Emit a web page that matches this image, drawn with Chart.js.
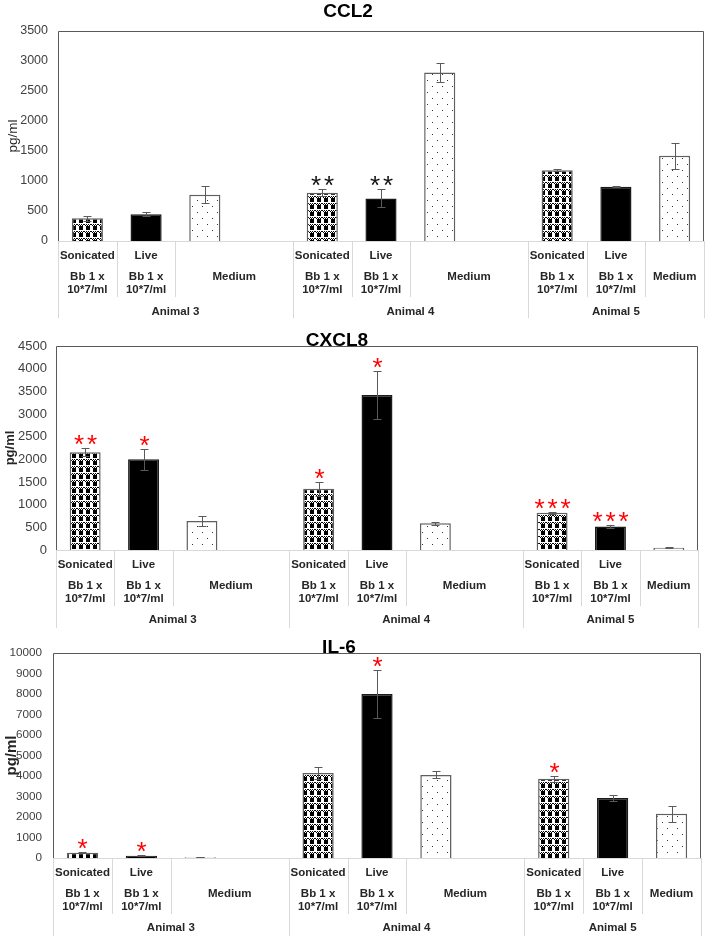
<!DOCTYPE html>
<html>
<head>
<meta charset="utf-8">
<script src="https://cdn.jsdelivr.net/npm/chart.js@4"></script>
<style>
  html, body { margin: 0; padding: 0; background: #fff; }
  body { width: 708px; height: 938px; position: relative; overflow: hidden; }
  canvas { position: absolute; left: 0; }
</style>
</head>
<body>
<canvas id="ccl2" width="708" height="326" style="top:0px"></canvas>
<canvas id="cxcl8" width="708" height="302" style="top:326px"></canvas>
<canvas id="il6" width="708" height="310" style="top:628px"></canvas>
<script>
// 11 category slots: Animal 3 and 4 have an empty 4th slot that "Medium" spans into
const treatments = ['Sonicated', 'Live', 'Medium', '', 'Sonicated', 'Live', 'Medium', '', 'Sonicated', 'Live', 'Medium'];
const doseLines = ['Bb 1 x', '10*7/ml'];
const animals = ['Animal 3', 'Animal 4', 'Animal 5'];
const animalSizes = [4, 4, 3];

const ccl2Values = [380, 445, 770, null, 805, 710, 2810, null, 1180, 905, 1420];
const ccl2Errors = [45, 35, 140, null, 55, 150, 155, null, 15, 8, 220];
const ccl2Stars  = ['', '', '', '', '**', '**', '', '', '', '', ''];
const ccl2Ticks  = [0, 500, 1000, 1500, 2000, 2500, 3000, 3500];

const cxcl8Values = [2155, 2000, 640, null, 1350, 3420, 590, null, 820, 520, 50];
const cxcl8Errors = [90, 225, 100, null, 150, 530, 30, null, 15, 25, 15];
const cxcl8Stars  = ['**', '*', '', '', '*', '*', '', '', '***', '***', ''];
const cxcl8Ticks  = [0, 500, 1000, 1500, 2000, 2500, 3000, 3500, 4000, 4500];

const il6Values = [260, 110, 40, null, 4150, 8000, 4050, null, 3860, 2930, 2160];
const il6Errors = [40, 20, 10, null, 300, 1180, 170, null, 130, 130, 400];
const il6Stars  = ['*', '*', '', '', '', '*', '', '', '*', '', ''];
const il6Ticks  = [0, 1000, 2000, 3000, 4000, 5000, 6000, 7000, 8000, 9000, 10000];

const FONT = '"Liberation Sans", Arial, Helvetica, sans-serif';

function tile(w, h, draw) {
  const c = document.createElement('canvas');
  c.width = w; c.height = h;
  const g = c.getContext('2d');
  g.fillStyle = '#fff';
  g.fillRect(0, 0, w, h);
  draw(g);
  return c;
}

function fillsFor(ctx) {
  // checkered fill for sonicated bars
  const check = tile(7, 7, g => {
    g.fillStyle = '#000';
    for (let yy = 0; yy < 2; yy++)
      for (let xx = 0; xx < 7; xx++)
        if ((xx + yy) % 2 === 0) g.fillRect(xx, yy, 1, 1);
    g.fillRect(2, 2, 4, 4);
  });
  // small dots for medium bars
  const dots = tile(10, 12, g => {
    g.fillStyle = '#333';
    g.fillRect(2, 2, 1, 1);
    g.fillRect(7, 8, 1, 1);
  });
  return {
    Sonicated: ctx.createPattern(check, 'repeat'),
    Live: '#000',
    Medium: ctx.createPattern(dots, 'repeat'),
    '': '#fff'
  };
}

const panelPlugin = {
  id: 'panel',
  afterDatasetsDraw(chart) {
    const p = chart.options.plugins.panel;
    const ctx = chart.ctx, x = chart.scales.x, y = chart.scales.y;
    ctx.save();
    ctx.strokeStyle = '#5a5a5a';
    ctx.lineWidth = 1;
    p.values.forEach((v, i) => {
      if (v == null) return;
      const cx = Math.round(x.getPixelForValue(i)) + 0.5;
      const hi = Math.round(y.getPixelForValue(v + p.errors[i])) + 0.5;
      const lo = Math.round(y.getPixelForValue(Math.max(0, v - p.errors[i]))) + 0.5;
      ctx.beginPath();
      ctx.moveTo(cx, hi); ctx.lineTo(cx, lo);
      ctx.moveTo(cx - 4, hi); ctx.lineTo(cx + 4, hi);
      ctx.moveTo(cx - 4, lo); ctx.lineTo(cx + 4, lo);
      ctx.stroke();
      const s = p.stars[i];
      if (s) {
        ctx.fillStyle = p.starColor;
        ctx.font = '26px ' + FONT;
        ctx.textAlign = 'center';
        ctx.textBaseline = 'alphabetic';
        const gap = 13;
        for (let k = 0; k < s.length; k++) {
          const sx = cx - (s.length - 1) * gap / 2 + k * gap;
          ctx.fillText('*', sx, hi + 4);
        }
      }
    });
    ctx.restore();
  },
  afterDraw(chart) {
    const p = chart.options.plugins.panel;
    const ctx = chart.ctx, a = chart.chartArea;
    const n = treatments.length;
    const slot = (a.right - a.left) / n;
    ctx.save();

    // category axis grid (light)
    ctx.strokeStyle = '#d9d9d9';
    ctx.lineWidth = 1;
    ctx.beginPath();
    ctx.moveTo(a.left, a.bottom + 0.5); ctx.lineTo(a.right, a.bottom + 0.5);
    const groupEdges = [0];
    animalSizes.forEach(sz => groupEdges.push(groupEdges[groupEdges.length - 1] + sz));
    for (let i = 0; i <= n; i++) {
      const bx = Math.round(a.left + i * slot) + 0.5;
      if (groupEdges.includes(i)) {
        ctx.moveTo(bx, a.bottom); ctx.lineTo(bx, a.bottom + p.groupLine);
      } else if (treatments[i] !== '') {
        ctx.moveTo(bx, a.bottom); ctx.lineTo(bx, a.bottom + 56);
      }
    }
    ctx.stroke();

    // plot frame
    ctx.strokeStyle = '#595959';
    ctx.beginPath();
    ctx.moveTo(a.left + 0.5, a.bottom); ctx.lineTo(a.left + 0.5, a.top + 0.5);
    ctx.lineTo(a.right - 0.5, a.top + 0.5); ctx.lineTo(a.right - 0.5, a.bottom);
    ctx.stroke();

    // category labels
    ctx.fillStyle = '#262626';
    ctx.font = 'bold 11.5px ' + FONT;
    ctx.textAlign = 'center';
    ctx.textBaseline = 'middle';
    treatments.forEach((t, i) => {
      if (!t) return;
      const cx = a.left + (i + 0.5) * slot;
      if (t === 'Medium') {
        const span = treatments[i + 1] === '' ? 2 : 1;
        ctx.fillText(t, a.left + (i + span / 2) * slot, a.bottom + 36);
      } else {
        ctx.fillText(t, cx, a.bottom + 15);
        ctx.fillText(doseLines[0], cx, a.bottom + 36);
        ctx.fillText(doseLines[1], cx, a.bottom + 49);
      }
    });
    animals.forEach((name, g) => {
      const mid = (groupEdges[g] + groupEdges[g + 1]) / 2;
      ctx.fillText(name, a.left + mid * slot, a.bottom + p.animalRow);
    });

    // title
    ctx.fillStyle = '#000';
    ctx.font = 'bold 19px ' + FONT;
    ctx.textBaseline = 'alphabetic';
    ctx.fillText(p.title, p.titleX, p.titleY);

    // y axis title
    ctx.fillStyle = '#262626';
    ctx.font = (p.yTitleBold ? 'bold ' : '') + p.yTitleSize + 'px ' + FONT;
    ctx.textBaseline = 'middle';
    ctx.translate(p.yTitleX, (a.top + a.bottom) / 2);
    ctx.rotate(-Math.PI / 2);
    ctx.fillText('pg/ml', 0, 0);
    ctx.restore();
  }
};

function makeChart(id, p) {
  const canvas = document.getElementById(id);
  const ctx = canvas.getContext('2d');
  const fills = fillsFor(ctx);
  const ticks = p.ticks;
  return new Chart(ctx, {
    type: 'bar',
    data: {
      labels: treatments,
      datasets: [{
        data: p.values,
        backgroundColor: treatments.map(t => fills[t]),
        borderColor: treatments.map(t => t === 'Live' ? '#1a1a1a' : '#5f5f5f'),
        borderWidth: 1.5,
        barPercentage: 0.53,
        categoryPercentage: 1
      }]
    },
    options: {
      responsive: false,
      animation: false,
      layout: {
        padding: {
          left: 0,
          top: p.area.top,
          right: canvas.width - p.area.right,
          bottom: canvas.height - p.area.bottom
        }
      },
      scales: {
        x: { display: false },
        y: {
          min: ticks[0],
          max: ticks[ticks.length - 1],
          afterBuildTicks: s => { s.ticks = ticks.map(v => ({ value: v })); },
          afterFit: s => { s.width = p.area.left; },
          ticks: {
            color: '#404040',
            padding: p.tickPad,
            font: { family: FONT, size: p.tickSize },
            callback: v => String(v)
          },
          grid: { display: false, drawTicks: false },
          border: { display: false }
        }
      },
      plugins: {
        legend: { display: false },
        tooltip: { enabled: false },
        panel: p
      }
    },
    plugins: [panelPlugin]
  });
}

makeChart('ccl2', {
  values: ccl2Values, errors: ccl2Errors, stars: ccl2Stars, ticks: ccl2Ticks,
  starColor: '#111', title: 'CCL2', titleX: 348, titleY: 17,
  area: { left: 58, top: 31, right: 704, bottom: 241 },
  tickSize: 12.5, tickPad: 10, yTitleX: 13, yTitleSize: 13.5, yTitleBold: false,
  groupLine: 77, animalRow: 71
});

makeChart('cxcl8', {
  values: cxcl8Values, errors: cxcl8Errors, stars: cxcl8Stars, ticks: cxcl8Ticks,
  starColor: '#ff0000', title: 'CXCL8', titleX: 337, titleY: 20,
  area: { left: 56, top: 20, right: 698, bottom: 224 },
  tickSize: 13, tickPad: 9, yTitleX: 10, yTitleSize: 13, yTitleBold: true,
  groupLine: 78, animalRow: 70
});

makeChart('il6', {
  values: il6Values, errors: il6Errors, stars: il6Stars, ticks: il6Ticks,
  starColor: '#ff0000', title: 'IL-6', titleX: 339, titleY: 25,
  area: { left: 53, top: 25, right: 701, bottom: 230 },
  tickSize: 11.7, tickPad: 11, yTitleX: 12, yTitleSize: 15, yTitleBold: true,
  groupLine: 78, animalRow: 70
});
</script>
</body>
</html>
